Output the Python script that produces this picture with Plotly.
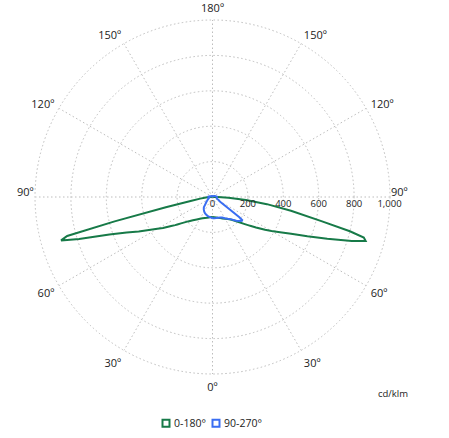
import plotly.graph_objects as go

# gamma angles (deg from nadir)
gamma = [0, 5, 10, 15, 20, 25, 30, 35, 40, 45, 50, 52, 53, 55, 58, 60, 62.5, 65, 67.5, 70,
         72.5, 74, 75, 76, 77.5, 80, 82.5, 85, 87.5, 90, 95, 100, 110, 120, 130, 140,
         150, 160, 170, 180]

# cd/klm values
c0 = [113, 115, 118, 122, 127, 134, 142, 152, 168, 196, 238, 260, 272, 300, 350, 385, 430, 490, 580, 690,
      825, 900, 885, 800, 630, 450, 310, 190, 90, 30, 8, 5, 4, 3, 3, 3, 3, 3, 3, 3]
c180 = [113, 114, 117, 121, 126, 133, 142, 155, 172, 195, 232, 252, 264, 285, 330, 360, 405, 460, 525, 620,
        790, 890, 850, 570, 270, 120, 70, 45, 30, 20, 8, 5, 4, 3, 3, 3, 3, 3, 3, 3]
c90 = [120, 120, 121, 122, 124, 128, 138, 150, 165, 190, 210, 216, 190, 100, 55, 45, 40, 35, 31, 28,
       26, 25, 25, 24, 24, 24, 24, 24, 25, 25, 24, 20, 15, 10, 8, 6, 5, 4, 3, 3]
c270 = [120, 116, 113, 110, 106, 101, 94, 86, 76, 57, 46, 43, 42, 38, 34, 32, 30, 27, 25, 24,
        22, 21, 20, 19, 18, 18, 19, 20, 22, 24, 24, 20, 14, 10, 8, 6, 5, 4, 3, 3]

tick_vals = [0, 30, 60, 90, 120, 150, 180, 210, 240, 270, 300, 330]
# the two 90º labels are placed as annotations (raised slightly, as in the reference)
tick_text = ["0º", "30º", "60º", "", "120º", "150º", "180º", "150º", "120º", "", "60º", "30º"]
side_label = "90º"
r_ticks = [0, 200, 400, 600, 800, 1000]
legend_names = ["0-180°", "90-270°"]

green = "#177a48"
blue = "#3a6ef2"
txt = "#222222"
grid = "#bdbdbd"
gdash = "1.5px,2.5px"
FONT = "Open Sans, Liberation Sans, sans-serif"
R_MAX = 1000


def loop(right, left):
    th = list(gamma) + [360 - g for g in reversed(gamma)]
    rr = list(right) + list(reversed(left))
    return th, rr


fig = go.Figure()
th, rr = loop(c0, c180)
fig.add_trace(go.Scatterpolar(theta=th, r=rr, mode="lines", line=dict(color=green, width=2),
                              showlegend=False, hoverinfo="skip", name=legend_names[0]))
th, rr = loop(c90, c270)
fig.add_trace(go.Scatterpolar(theta=th, r=rr, mode="lines", line=dict(color=blue, width=2),
                              showlegend=False, hoverinfo="skip", name=legend_names[1]))

# layout geometry: polar centre (212.5, 197), radius 177.5 px
CX, CY, RAD = 212.5, 197.0, 177.5
X0, X1, Y0, Y1 = CX - RAD, CX + RAD, CY - RAD, CY + RAD
W = X1 - X0


def px(x):
    return (x - X0) / W


def py(y):
    return (Y1 - y) / W


# dotted outer frame circle
shapes = [dict(type="circle", xref="paper", yref="paper", x0=0, x1=1, y0=0, y1=1,
               line=dict(color=grid, width=1, dash=gdash), layer="above")]
annotations = [
    dict(text=side_label, x=px(36), y=py(191), xref="paper", yref="paper", xanchor="right",
         yanchor="middle", showarrow=False, font=dict(size=11, color=txt, family=FONT)),
    dict(text=side_label, x=px(389), y=py(191), xref="paper", yref="paper", xanchor="left",
         yanchor="middle", showarrow=False, font=dict(size=11, color=txt, family=FONT)),
]
leg_y = 424
for cx, tx, col, name in [(166, 172, green, legend_names[0]), (216, 222, blue, legend_names[1])]:
    shapes.append(dict(type="rect", xref="paper", yref="paper",
                       x0=px(cx - 3.5), x1=px(cx + 3.5), y0=py(leg_y + 3.5), y1=py(leg_y - 3.5),
                       line=dict(color=col, width=2), fillcolor="white"))
    annotations.append(dict(text=name, x=px(tx), y=py(leg_y), xref="paper", yref="paper",
                            xanchor="left", yanchor="middle", showarrow=False,
                            font=dict(size=10.5, color=txt, family=FONT)))
annotations.append(dict(text="cd/klm", x=px(410), y=py(403), xref="paper", yref="paper",
                        showarrow=False, font=dict(size=9.5, color=txt, family=FONT)))

fig.update_layout(
    width=449, height=438,
    margin=dict(l=X0, r=449 - X1, t=Y0, b=438 - Y1),
    paper_bgcolor="white",
    showlegend=False,
    font=dict(family=FONT, size=11, color=txt),
    polar=dict(
        bgcolor="white",
        domain=dict(x=[0, 1], y=[0, 1]),
        angularaxis=dict(rotation=270, direction="counterclockwise", tickmode="array",
                         tickvals=tick_vals, ticktext=tick_text, showline=False,
                         gridcolor=grid, griddash=gdash, gridwidth=1,
                         ticks="outside", ticklen=3, tickcolor="rgba(0,0,0,0)",
                         tickfont=dict(size=11, color=txt, family=FONT)),
        radialaxis=dict(range=[0, R_MAX], tickmode="array", tickvals=r_ticks, tickformat=",",
                        angle=0, side="clockwise", showline=False, ticks="",
                        gridcolor=grid, griddash=gdash, gridwidth=1,
                        tickfont=dict(size=9.5, color=txt, family=FONT), tickangle=0),
    ),
    shapes=shapes,
    annotations=annotations,
)

fig.write_html("out.html", config={"displayModeBar": False},
               post_script="document.body.style.margin='0';")
